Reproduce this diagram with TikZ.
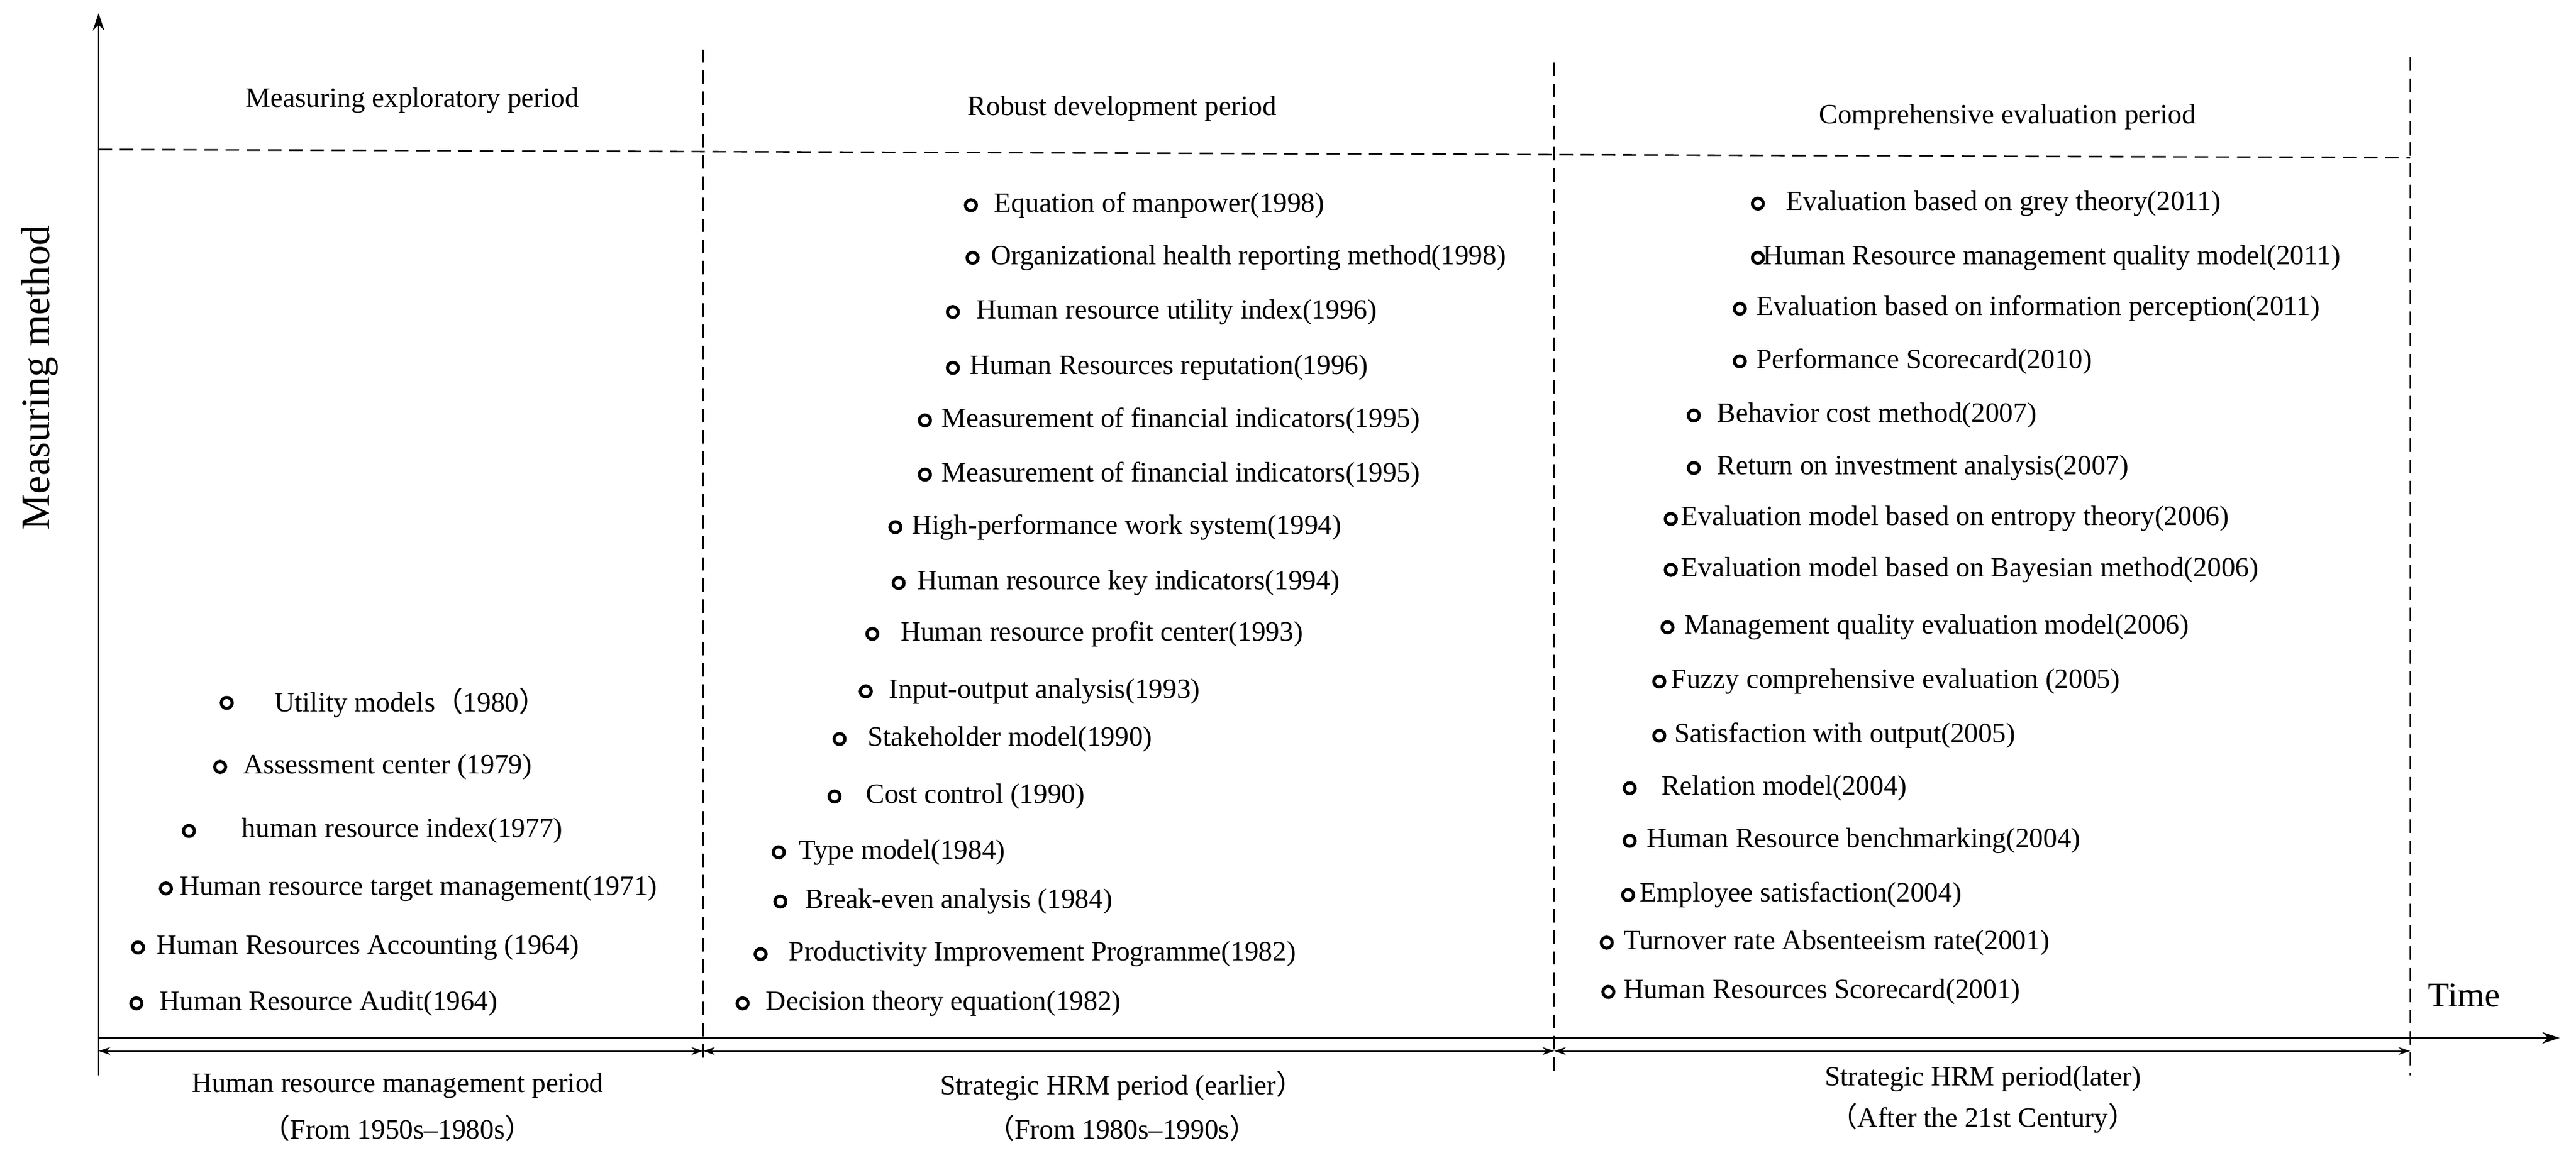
\documentclass[tikz,border=0pt]{standalone}
\usepackage{fontspec}
\setmainfont{Liberation Serif}
\newfontfamily\cjk{Noto Sans CJK SC}
\usetikzlibrary{arrows.meta}
\tikzset{
 lbl/.style={font=\fontsize{14.5}{17}\selectfont,inner sep=0pt,anchor=west},
 ttl/.style={font=\fontsize{14.5}{17}\selectfont,inner sep=0pt},
 ring/.style={circle,draw=black,fill=white,line width=1.6pt,minimum size=0.2cm,inner sep=0pt},
 dsh/.style={dashed,line width=0.8pt,dash pattern=on 7pt off 4pt},
 axis/.style={line width=0.9pt,-{Stealth[length=9pt,width=6pt]}},
 dim/.style={line width=0.7pt,{Stealth[length=6pt,width=4pt]}-{Stealth[length=6pt,width=4pt]}}
}
\begin{document}
\begin{tikzpicture}[x=0.03cm,y=-0.03cm]
\useasboundingbox (0,0) rectangle (1568,705);
\coordinate (o) at (60,632);
\coordinate (ytop) at (60,8);
\coordinate (xend) at (1558,632);
\draw[axis] (o) -- (ytop);
\draw[axis] (o) -- (xend);
\node[font=\fontsize{21}{24}\selectfont,rotate=90] (ylab) at (24,230) {Measuring method};
\node[font=\fontsize{18}{21}\selectfont] (tlab) at (1500,606) {Time};
% dashed lines
\coordinate (h1) at (60,91); \coordinate (h2) at (1467,96);
\draw[dsh] (h1) -- (h2);
\coordinate (v1a) at (428,30); \coordinate (v1b) at (428,645);
\coordinate (v2a) at (946,38); \coordinate (v2b) at (946,655);
\coordinate (v3a) at (1467,35); \coordinate (v3b) at (1467,655);
\draw[dsh] (v1a) -- (v1b);
\draw[dsh] (v2a) -- (v2b);
\draw[dsh] (v3a) -- (v3b);
\coordinate (t0a) at (60,632); \coordinate (t0b) at (60,655);
\draw[line width=0.7pt] (t0a) -- (t0b);
% dimension arrows
\coordinate (d0) at (60,640); \coordinate (d1) at (428,640);
\coordinate (d2) at (946,640); \coordinate (d3) at (1467,640);
\draw[dim] (d0) -- (d1);
\draw[dim] (d1) -- (d2);
\draw[dim] (d2) -- (d3);
% titles
\node[ttl] (p1) at (251,61) {Measuring exploratory period};
\node[ttl] (p2) at (683,66) {Robust development period};
\node[ttl] (p3) at (1222,71) {Comprehensive evaluation period};
\node[ttl] (b1) at (242,661) {Human resource management period};
\node[ttl] (b1b) at (242,687) {{\cjk （}From 1950s–1980s{\cjk ）}};
\node[ttl] (b2) at (683,661) {Strategic HRM period (earlier{\cjk ）}};
\node[ttl] (b2b) at (683,687) {{\cjk （}From 1980s–1990s{\cjk ）}};
\node[ttl] (b3) at (1207,657) {Strategic HRM period(later)};
\node[ttl] (b3b) at (1207,681) {{\cjk （}After the 21st Century{\cjk ）}};
% items
\foreach \i/\x/\y/\tx/\t in {
a1/138/428/167/{Utility models{\cjk （}1980{\cjk ）}},
a2/134/467/148/{Assessment center (1979)},
a3/115/506/147/{human resource index(1977)},
a4/101/541/109/{Human resource target management(1971)},
a5/84/577/95/{Human Resources Accounting (1964)},
a6/83/611/97/{Human Resource Audit(1964)},
b1/591/125/605/{Equation of manpower(1998)},
b2/592/157/603/{Organizational health reporting method(1998)},
b3/580/190/594/{Human resource utility index(1996)},
b4/580/224/590/{Human Resources reputation(1996)},
b5/563/256/573/{Measurement of financial indicators(1995)},
b6/563/289/573/{Measurement of financial indicators(1995)},
b7/545/321/555/{High-performance work system(1994)},
b8/547/355/558/{Human resource key indicators(1994)},
b9/531/386/548/{Human resource profit center(1993)},
b10/527/421/541/{Input-output analysis(1993)},
b11/511/450/528/{Stakeholder model(1990)},
b12/508/485/527/{Cost control (1990)},
b13/474/519/486/{Type model(1984)},
b14/475/549/490/{Break-even analysis (1984)},
b15/463/581/480/{Productivity Improvement Programme(1982)},
b16/452/611/466/{Decision theory equation(1982)},
c1/1070/124/1087/{Evaluation based on grey theory(2011)},
c2/1070/157/1073/{Human Resource management quality model(2011)},
c3/1059/188/1069/{Evaluation based on information perception(2011)},
c4/1059/220/1069/{Performance Scorecard(2010)},
c5/1031/253/1045/{Behavior cost method(2007)},
c6/1031/285/1045/{Return on investment analysis(2007)},
c7/1017/316/1023/{Evaluation model based on entropy theory(2006)},
c8/1017/347/1023/{Evaluation model based on Bayesian method(2006)},
c9/1015/382/1025/{Management quality evaluation model(2006)},
c10/1010/415/1017/{Fuzzy comprehensive evaluation (2005)},
c11/1010/448/1019/{Satisfaction with output(2005)},
c12/992/480/1011/{Relation model(2004)},
c13/992/512/1002/{Human Resource benchmarking(2004)},
c14/991/545/998/{Employee satisfaction(2004)},
c15/978/574/988/{Turnover rate Absenteeism rate(2001)},
c16/979/604/988/{Human Resources Scorecard(2001)}}
{
 \node[ring] (m\i) at (\x,\y) {};
 \node[lbl] (t\i) at (\tx,\y) {\t};
}
\end{tikzpicture}
\end{document}
